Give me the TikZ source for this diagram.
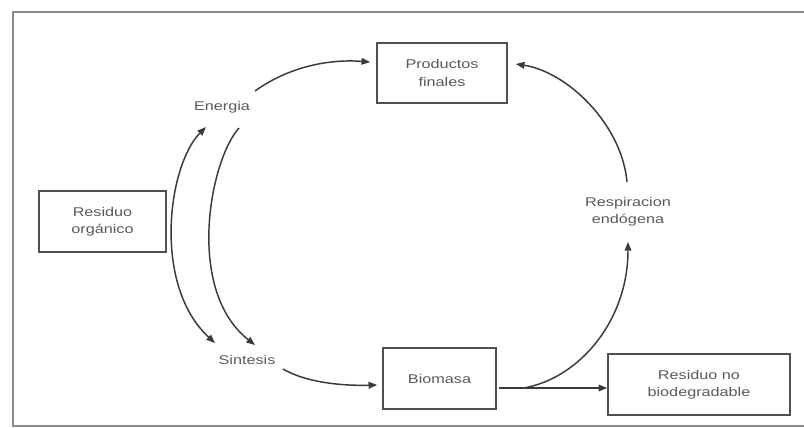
\documentclass[tikz,border=0pt]{standalone}
\usepackage{fontspec}
\setmainfont{Liberation Sans}[FakeStretch=1.28]
\usetikzlibrary{arrows.meta,calc}
\definecolor{txt}{HTML}{5A5A5A}
\definecolor{ln}{HTML}{3A3A3A}
\definecolor{bx}{HTML}{505050}
\definecolor{frm}{HTML}{8A8A8A}
\begin{document}
\begin{tikzpicture}[x=0.75pt,y=-0.75pt,
  every node/.style={font=\fontsize{9.5}{13}\selectfont, text=txt, align=center},
  boxnode/.style={draw=bx, line width=1.2pt, inner sep=0pt},
  lbl/.style={inner sep=0pt},
  conn/.style={draw=ln, line width=1.1pt, -{Triangle[length=6.5pt,width=5pt]}},
  conn2/.style={draw=ln, line width=1.1pt, {Triangle[length=6.5pt,width=5pt]}-{Triangle[length=6.5pt,width=5pt]}}]
\useasboundingbox (0,0) rectangle (804,428);
\fill[white] (0,0) rectangle (804,428);
% frame
\draw[frm, line width=2.2pt] (806,12) -- (13,12) -- (13,426) -- (806,426);
% boxes
\node[boxnode, minimum width={130*0.75pt}, minimum height={60*0.75pt}] (prod) at (442,73) {Productos\\finales};
\node[boxnode, minimum width={127*0.75pt}, minimum height={61*0.75pt}] (org) at (102.5,221.5) {Residuo\\orgánico};
\node[boxnode, minimum width={113*0.75pt}, minimum height={61*0.75pt}] (bio) at (439.5,378.5) {Biomasa};
\node[boxnode, minimum width={182*0.75pt}, minimum height={61*0.75pt}] (resno) at (699,384.5) {Residuo no\\biodegradable};
% labels
\node[lbl] (en) at (222,107) {Energia};
\node[lbl] (sin) at (247,360) {Sintesis};
\node[lbl] (resp) at (628,212) {Respiracion\\endógena};
% connectors
\draw[conn] ($(en.center)+(33,-16)$) .. controls (290,66) and (330,59) .. ($(prod.west)+(-6,-11)$);
\draw[conn2] ($(en.center)+(-16,20)$) .. controls (168,165) and (152,285) .. ($(sin.center)+(-32,-17)$);
\draw[conn] ($(en.center)+(17,21)$) .. controls (210,160) and (185,290) .. ($(sin.center)+(8,-15)$);
\draw[conn] ($(sin.center)+(36,9)$) .. controls (305,382) and (340,386) .. ($(bio.west)+(-5,6.5)$);
\coordinate (bo) at ($(bio.east)+(2,9.5)$);
\draw[conn] (bo) -- (bo -| resno.west);
\draw[conn] ($(bo)+(25,0)$) .. controls (580,378) and (628,320) .. ($(resp.center)+(0,30)$);
\draw[conn] ($(resp.center)+(-1,-30)$) .. controls (622,125) and (568,72) .. ($(prod.east)+(8,-9)$);
\end{tikzpicture}
\end{document}
